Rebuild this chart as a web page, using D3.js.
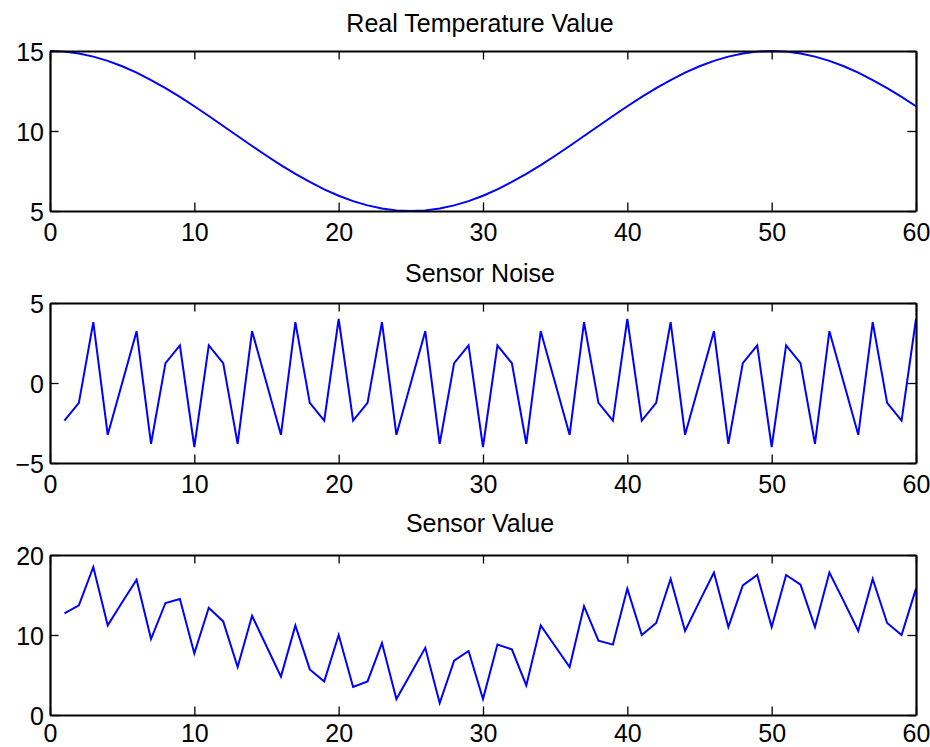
<!DOCTYPE html>
<html><head><meta charset="utf-8">
<script src="https://cdn.jsdelivr.net/npm/d3@7"></script>
<style>
html,body{margin:0;padding:0;background:#fff;}
svg{display:block;}
text{font-family:"Liberation Sans",Arial,sans-serif;fill:#000;}
</style></head>
<body>
<svg id="chart" width="930" height="747"></svg>
<script>
// ---- data ----
const tempX = [0,1,2,3,4,5,6,7,8,9,10,11,12,13,14,15,16,17,18,19,20,21,22,23,24,25,26,27,28,29,30,31,32,33,34,35,36,37,38,39,40,41,42,43,44,45,46,47,48,49,50,51,52,53,54,55,56,57,58,59,60];
const tempValues = [15,14.961,14.843,14.649,14.382,14.045,13.645,13.187,12.679,12.129,11.545,10.937,10.314,9.686,9.063,8.455,7.871,7.321,6.813,6.355,5.955,5.618,5.351,5.157,5.039,5,5.039,5.157,5.351,5.618,5.955,6.355,6.813,7.321,7.871,8.455,9.063,9.686,10.314,10.937,11.545,12.129,12.679,13.187,13.645,14.045,14.382,14.649,14.843,14.961,15,14.961,14.843,14.649,14.382,14.045,13.645,13.187,12.679,12.129,11.545];
const sampleX = [1,2,3,4,5,6,7,8,9,10,11,12,13,14,15,16,17,18,19,20,21,22,23,24,25,26,27,28,29,30,31,32,33,34,35,36,37,38,39,40,41,42,43,44,45,46,47,48,49,50,51,52,53,54,55,56,57,58,59,60];
const noiseValues = [-2.35,-1.24,3.80,-3.24,0,3.24,-3.80,1.24,2.35,-4,2.35,1.24,-3.80,3.24,0,-3.24,3.80,-1.24,-2.35,4,
                     -2.35,-1.24,3.80,-3.24,0,3.24,-3.80,1.24,2.35,-4,2.35,1.24,-3.80,3.24,0,-3.24,3.80,-1.24,-2.35,4,
                     -2.35,-1.24,3.80,-3.24,0,3.24,-3.80,1.24,2.35,-4,2.35,1.24,-3.80,3.24,0,-3.24,3.80,-1.24,-2.35,4];
const sensorValues = [12.7,13.7,18.5,11.2,14.1,16.9,9.5,14.0,14.5,7.7,13.4,11.7,6.0,12.4,8.6,4.8,11.2,5.7,4.2,10.0,
                      3.5,4.2,9.0,2.0,5.2,8.4,1.5,6.8,8.0,2.0,8.8,8.2,3.7,11.2,8.6,6.0,13.6,9.3,8.8,15.8,
                      10.0,11.5,17.0,10.5,14.2,17.8,11.0,16.2,17.5,11.0,17.5,16.3,11.0,17.8,14.2,10.5,17.0,11.5,10.0,15.8];
const xTicks = [0,10,20,30,40,50,60];
const tempTicks = [5,10,15];
const noiseTicks = [-5,0,5];
const sensorTicks = [0,10,20];
const titles = ["Real Temperature Value","Sensor Noise","Sensor Value"];

// ---- layout ----
const svg = d3.select("#chart");
const left = 50, right = 916, plotH = 160;
const tops = [51, 303, 555];
const titleGap = [19, 21.3, 22.7];
const xLabelGap = [12, 12, 9];
const tickLen = 8.6;
const fontSize = 25;

const x = d3.scaleLinear().domain([0,60]).range([left,right]);

const panels = [
  {xs: tempX, ys: tempValues, domain:[5,15], ticks: tempTicks},
  {xs: sampleX, ys: noiseValues, domain:[-5,5], ticks: noiseTicks},
  {xs: sampleX, ys: sensorValues, domain:[0,20], ticks: sensorTicks}
];

panels.forEach((p,i) => {
  const top = tops[i], bottom = top + plotH;
  const y = d3.scaleLinear().domain(p.domain).range([bottom, top]);
  const g = svg.append("g");

  // line
  const line = d3.line().x((d,k)=>x(p.xs[k])).y(d=>y(d));
  g.append("path").datum(p.ys)
    .attr("d", line).attr("fill","none")
    .attr("stroke","#0000ff").attr("stroke-width",2).attr("stroke-linejoin","miter");

  // axes (ticks inside)
  const axB = d3.axisBottom(x).tickValues(xTicks).tickSizeInner(-tickLen).tickSizeOuter(0).tickFormat(d3.format("d"));
  const axT = d3.axisTop(x).tickValues(xTicks).tickSizeInner(-tickLen).tickSizeOuter(0).tickFormat("");
  const axL = d3.axisLeft(y).tickValues(p.ticks).tickSizeInner(-tickLen).tickSizeOuter(0).tickFormat(d3.format("d"));
  const axR = d3.axisRight(y).tickValues(p.ticks).tickSizeInner(-tickLen).tickSizeOuter(0).tickFormat("");

  const gb = g.append("g").attr("transform",`translate(0,${bottom})`).call(axB);
  const gt = g.append("g").attr("transform",`translate(0,${top})`).call(axT);
  const gl = g.append("g").attr("transform",`translate(${left},0)`).call(axL);
  const gr = g.append("g").attr("transform",`translate(${right},0)`).call(axR);
  [gb,gt,gl,gr].forEach(a => {
    a.select(".domain").attr("stroke","#000").attr("stroke-width",2.2);
    a.selectAll(".tick line").attr("stroke","#000").attr("stroke-width",1.3);
    a.selectAll(".tick text").attr("font-size",fontSize).attr("font-family","Liberation Sans, Arial, sans-serif").attr("fill","#000");
  });
  gb.selectAll(".tick text").attr("dy","0.71em").attr("y", xLabelGap[i]);
  gl.selectAll(".tick text").attr("x",-6).attr("dy","0.36em");

  // title
  svg.append("text").attr("x",(left+right)/2 - 3).attr("y", top - titleGap[i])
    .attr("text-anchor","middle").attr("font-size",fontSize).text(titles[i]);
});
</script>
</body></html>
